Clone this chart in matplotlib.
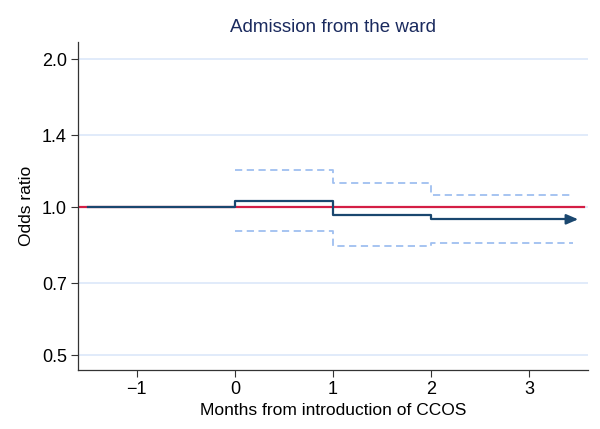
import matplotlib
matplotlib.use("Agg")
import matplotlib.pyplot as plt

plt.rcParams['font.family'] = ['Liberation Sans', 'DejaVu Sans']

# step edges (months) and values
edges = [-1.5, 0, 1, 2, 3.5]
odds = [1.0, 1.03, 0.963, 0.944]
upper = [1.19, 1.12, 1.058]
lower = [0.895, 0.834, 0.844]
ci_edges = [0, 1, 2, 3.45]

yticks = [0.5, 0.7, 1.0, 1.4, 2.0]
xticks = [-1, 0, 1, 2, 3]

navy = '#1a476f'
red = '#d41e45'
light = '#9fbff0'

fig = plt.figure(figsize=(6, 4.29), dpi=100)
ax = fig.add_axes([0.13, 0.1385, 0.85, 0.7645])
ax.set_yscale('log')

for t in yticks:
    ax.axhline(t, color='#dce8fa', lw=1.2, zorder=0)

ax.plot([-1.6, 3.56], [1.0, 1.0], color=red, lw=1.6, zorder=2)

ax.step(ci_edges, upper + [upper[-1]], where='post', color=light, lw=1.3,
        ls=(0, (4, 2.5)), zorder=2)
ax.step(ci_edges, lower + [lower[-1]], where='post', color=light, lw=1.3,
        ls=(0, (4, 2.5)), zorder=2)

ax.step(edges[:-1] + [edges[-1] - 0.08], odds + [odds[-1]], where='post',
        color=navy, lw=1.6, zorder=3)
ax.annotate('', xy=(edges[-1], odds[-1]), xytext=(edges[-1] - 0.1, odds[-1]),
            arrowprops=dict(arrowstyle='-|>,head_length=0.7,head_width=0.3',
                            color=navy, lw=1.6, shrinkA=0, shrinkB=0))

ax.set_xlim(-1.6, 3.6)
ax.set_ylim(0.467, 2.17)
ax.set_yticks(yticks)
ax.set_yticklabels(['%.1f' % t for t in yticks])
ax.minorticks_off()
ax.set_xticks(xticks)
ax.set_xticklabels(['\u22121', '0', '1', '2', '3'])
ax.tick_params(labelsize=13, length=5, color='#333333', pad=3)

for s in ['top', 'right']:
    ax.spines[s].set_visible(False)
for s in ['left', 'bottom']:
    ax.spines[s].set_color('#333333')
    ax.spines[s].set_linewidth(0.9)

ax.set_title('Admission from the ward', color='#1a2a5e', fontsize=13.5, pad=7)
ax.set_xlabel('Months from introduction of CCOS', fontsize=12.5, labelpad=4)
ax.set_ylabel('Odds ratio', fontsize=12.5, labelpad=6)

fig.savefig('out.png', dpi=100)
